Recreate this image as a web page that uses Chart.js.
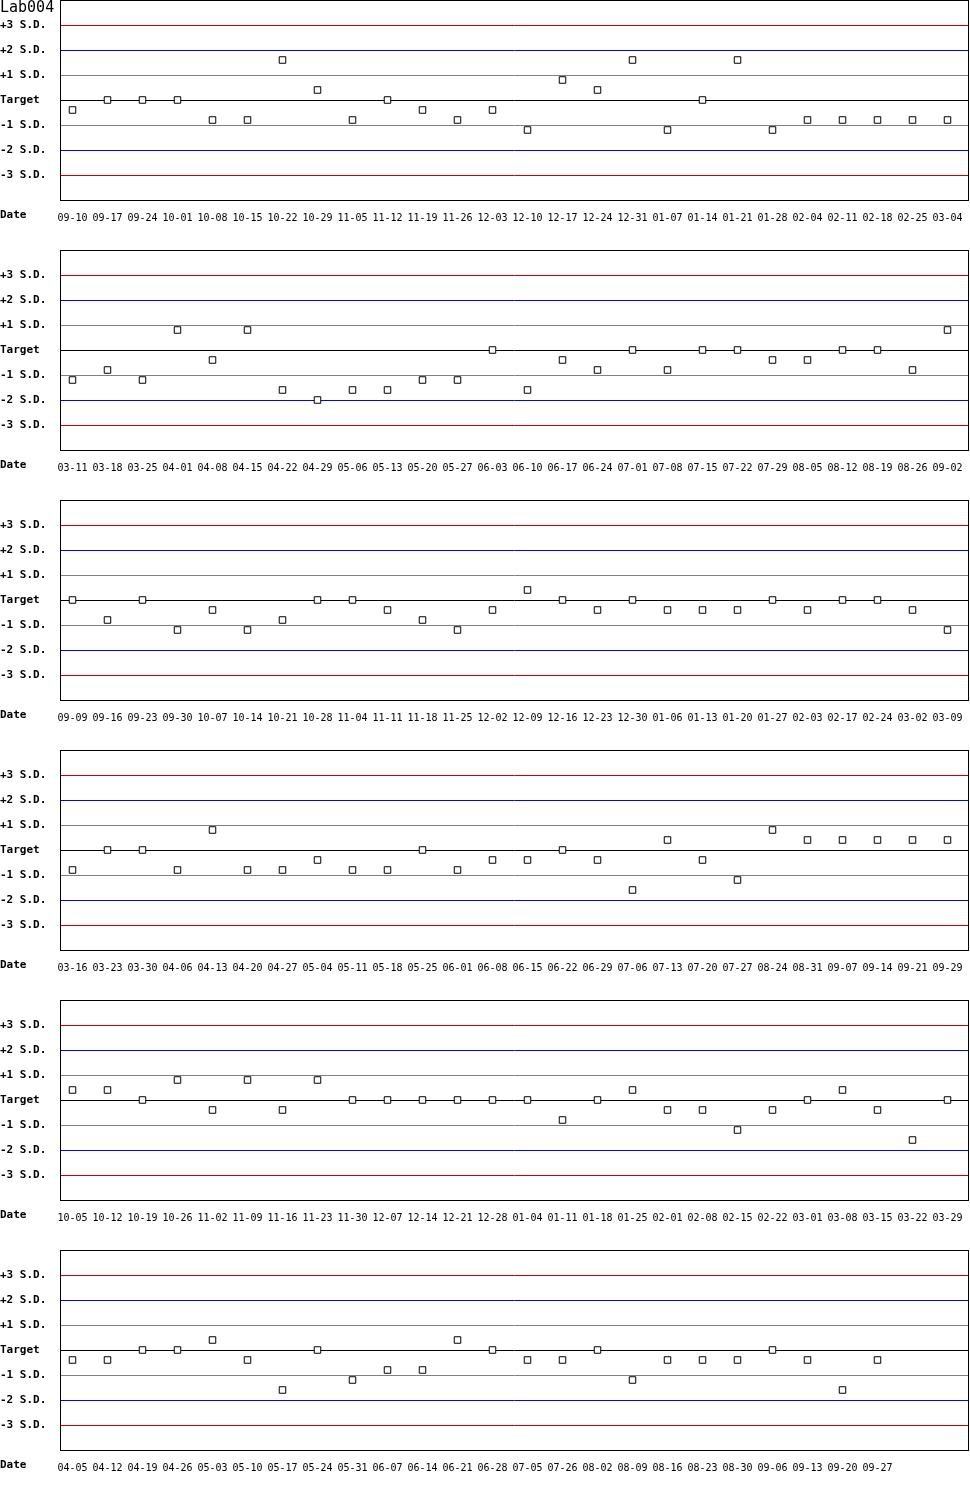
<!DOCTYPE html>
<html>
<head>
<meta charset="utf-8">
<script src="https://cdn.jsdelivr.net/npm/chart.js@4.4.1/dist/chart.umd.min.js"></script>
<style>
  html, body { margin: 0; padding: 0; background: #fff; }
  .panel { position: relative; width: 970px; height: 250px; }
  .panel canvas { position: absolute; left: 0; top: 0; }
  .lbl { position: absolute; left: 0; font-family: "DejaVu Sans Mono", monospace; color: #000; white-space: nowrap; line-height: 1; }
  .title { top: 0px; font-size: 15px; }
  .date { top: 209px; font-size: 11px; font-weight: bold; }
</style>
</head>
<body>
<div id="wrap"></div>
<script>
// ---- Data (values in S.D. units) ----
const dates1 = ["09-10","09-17","09-24","10-01","10-08","10-15","10-22","10-29","11-05","11-12","11-19","11-26","12-03","12-10","12-17","12-24","12-31","01-07","01-14","01-21","01-28","02-04","02-11","02-18","02-25","03-04"];
const values1 = [-0.4,0,0,0,-0.8,-0.8,1.6,0.4,-0.8,0,-0.4,-0.8,-0.4,-1.2,0.8,0.4,1.6,-1.2,0,1.6,-1.2,-0.8,-0.8,-0.8,-0.8,-0.8];

const dates2 = ["03-11","03-18","03-25","04-01","04-08","04-15","04-22","04-29","05-06","05-13","05-20","05-27","06-03","06-10","06-17","06-24","07-01","07-08","07-15","07-22","07-29","08-05","08-12","08-19","08-26","09-02"];
const values2 = [-1.2,-0.8,-1.2,0.8,-0.4,0.8,-1.6,-2.0,-1.6,-1.6,-1.2,-1.2,0,-1.6,-0.4,-0.8,0,-0.8,0,0,-0.4,-0.4,0,0,-0.8,0.8];

const dates3 = ["09-09","09-16","09-23","09-30","10-07","10-14","10-21","10-28","11-04","11-11","11-18","11-25","12-02","12-09","12-16","12-23","12-30","01-06","01-13","01-20","01-27","02-03","02-17","02-24","03-02","03-09"];
const values3 = [0,-0.8,0,-1.2,-0.4,-1.2,-0.8,0,0,-0.4,-0.8,-1.2,-0.4,0.4,0,-0.4,0,-0.4,-0.4,-0.4,0,-0.4,0,0,-0.4,-1.2];

const dates4 = ["03-16","03-23","03-30","04-06","04-13","04-20","04-27","05-04","05-11","05-18","05-25","06-01","06-08","06-15","06-22","06-29","07-06","07-13","07-20","07-27","08-24","08-31","09-07","09-14","09-21","09-29"];
const values4 = [-0.8,0,0,-0.8,0.8,-0.8,-0.8,-0.4,-0.8,-0.8,0,-0.8,-0.4,-0.4,0,-0.4,-1.6,0.4,-0.4,-1.2,0.8,0.4,0.4,0.4,0.4,0.4];

const dates5 = ["10-05","10-12","10-19","10-26","11-02","11-09","11-16","11-23","11-30","12-07","12-14","12-21","12-28","01-04","01-11","01-18","01-25","02-01","02-08","02-15","02-22","03-01","03-08","03-15","03-22","03-29"];
const values5 = [0.4,0.4,0,0.8,-0.4,0.8,-0.4,0.8,0,0,0,0,0,0,-0.8,0,0.4,-0.4,-0.4,-1.2,-0.4,0,0.4,-0.4,-1.6,0];

const dates6 = ["04-05","04-12","04-19","04-26","05-03","05-10","05-17","05-24","05-31","06-07","06-14","06-21","06-28","07-05","07-26","08-02","08-09","08-16","08-23","08-30","09-06","09-13","09-20","09-27","",""];
const values6 = [-0.4,-0.4,0,0,0.4,-0.4,-1.6,0,-1.2,-0.8,-0.8,0.4,0,-0.4,-0.4,0,-1.2,-0.4,-0.4,-0.4,0,-0.4,-1.6,-0.4];

const sdTicks = [-4,-3,-2,-1,0,1,2,3,4];
const sdLabels = ["","-3 S.D.","-2 S.D.","-1 S.D.","Target","+1 S.D.","+2 S.D.","+3 S.D.",""];
const sdColors = ["#000000","#d00000","#0000ff","#808080","#000000","#808080","#0000ff","#d00000","#000000"];
const chartTitle = "Lab004";
const axisTitle = "Date";

const panels = [
  [dates1, values1], [dates2, values2], [dates3, values3],
  [dates4, values4], [dates5, values5], [dates6, values6]
];

// SD reference lines (positions from the y scale) and the plot frame
const sdLinesPlugin = {
  id: "sdLines",
  beforeDatasetsDraw(chart) {
    const a = chart.chartArea, ctx = chart.ctx, ys = chart.scales.y;
    const l = Math.floor(a.left) + 0.5, t = Math.floor(a.top) + 0.5;
    const r = Math.ceil(a.right) - 0.5, b = Math.floor(a.bottom) + 0.5;
    ctx.save();
    ctx.lineWidth = 1;
    sdTicks.forEach((v, i) => {
      const y = Math.round(ys.getPixelForValue(v)) + 0.5;
      ctx.strokeStyle = sdColors[i];
      ctx.beginPath();
      ctx.moveTo(l, y);
      ctx.lineTo(r, y);
      ctx.stroke();
    });
    ctx.strokeStyle = "#000";
    ctx.strokeRect(l, t, r - l, b - t);
    ctx.restore();
  }
};

const wrap = document.getElementById("wrap");
panels.forEach(([cats, vals], idx) => {
  const div = document.createElement("div");
  div.className = "panel";
  const cv = document.createElement("canvas");
  cv.width = 970; cv.height = 250;
  cv.style.width = "970px"; cv.style.height = "250px";
  div.appendChild(cv);
  if (idx === 0) {
    const t = document.createElement("div");
    t.className = "lbl title"; t.textContent = chartTitle;
    div.appendChild(t);
  }
  const d = document.createElement("div");
  d.className = "lbl date"; d.textContent = axisTitle;
  div.appendChild(d);
  wrap.appendChild(div);

  new Chart(cv.getContext("2d"), {
    type: "scatter",
    data: {
      datasets: [{
        data: vals.map((v, i) => ({ x: i, y: v })),
        showLine: false,
        clip: false,
        pointStyle: "rect",
        pointRadius: 4.6,
        pointHoverRadius: 4.6,
        pointBorderWidth: 1,
        pointBorderColor: "#000",
        pointBackgroundColor: "#fff"
      }]
    },
    options: {
      responsive: false,
      animation: false,
      devicePixelRatio: 1,
      layout: { autoPadding: false, padding: { top: 0, right: 1, left: 0, bottom: 0 } },
      plugins: { legend: { display: false }, tooltip: { enabled: false } },
      scales: {
        x: {
          type: "linear",
          min: -0.357,
          max: 25.614,
          afterBuildTicks: s => { s.ticks = cats.map((_, i) => ({ value: i })); },
          afterFit: s => { s.height = 50; s.paddingLeft = 0; s.paddingRight = 0; },
          grid: { display: false, drawTicks: true, tickLength: 12 },
          border: { display: false },
          ticks: {
            autoSkip: false, maxRotation: 0, minRotation: 0, padding: 0,
            color: "#000",
            font: { family: "DejaVu Sans Mono", size: 10 },
            callback: v => cats[v] !== undefined ? cats[v] : ""
          }
        },
        y: {
          min: -4, max: 4,
          afterBuildTicks: s => { s.ticks = sdTicks.map(v => ({ value: v })); },
          afterFit: s => { s.width = 60; s.paddingTop = 0; s.paddingBottom = 0; },
          grid: { display: false, drawTicks: false },
          border: { display: false },
          ticks: {
            autoSkip: false,
            crossAlign: "far",
            padding: 0,
            color: "#000",
            font: { family: "DejaVu Sans Mono", size: 11, weight: "bold" },
            callback: v => sdLabels[sdTicks.indexOf(v)]
          }
        }
      }
    },
    plugins: [sdLinesPlugin]
  });
});
</script>
</body>
</html>
